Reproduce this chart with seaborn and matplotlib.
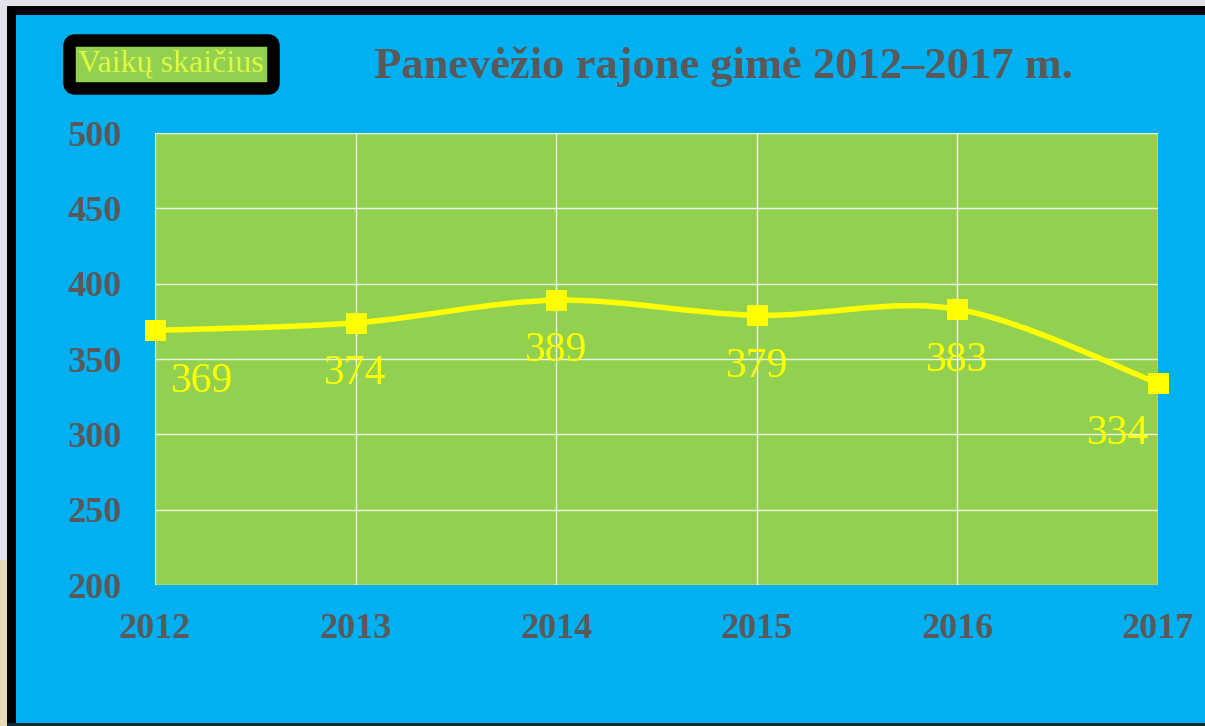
import matplotlib.pyplot as plt
import matplotlib.patches as mpatches
from matplotlib.path import Path
from matplotlib.lines import Line2D
import numpy as np
import pandas as pd
import seaborn as sns

# data
years = ["2012", "2013", "2014", "2015", "2016", "2017"]
births = [369, 374, 389, 379, 383, 334]
y_ticks = [200, 250, 300, 350, 400, 450, 500]

title = "Panevėžio rajone gimė 2012–2017 m."
series_name = "Vaikų skaičius"

blue = "#00B0F0"
green = "#92D050"
yellow = "#FFFF00"
gray = "#595959"

sns.set_theme(style="white")
plt.rcParams["font.family"] = ["Liberation Serif", "DejaVu Serif"]

df = pd.DataFrame({"year": years, "births": births})

fig = plt.figure(figsize=(12.05, 7.26), dpi=100, facecolor=blue)
ax = fig.add_axes([155 / 1205, 1 - 585 / 726, 1003 / 1205, 452 / 726])
ax.set_facecolor(green)


def frame_rect(x0, y0, w, h, color, z):
    # pixel coords, origin top-left
    r = mpatches.Rectangle((x0 / 1205, 1 - (y0 + h) / 726), w / 1205, h / 726,
                           transform=fig.transFigure, facecolor=color,
                           edgecolor="none", linewidth=0, zorder=z)
    fig.patches.append(r)


# frame around the picture
frame_rect(0, 0, 7, 726, "#e2e2ea", -4)
frame_rect(0, 560, 7, 166, "#e8d9b8", -4)
frame_rect(0, 0, 1205, 6, "#e2e2ea", -4)
frame_rect(7, 6, 9, 720, "black", -3)
frame_rect(7, 6, 1198, 9, "black", -3)
frame_rect(7, 723, 1198, 3, "#0a2a3a", -3)

# smoothed line (bezier through the data points, like the spreadsheet "smooth line")
xs = np.arange(len(births), dtype=float)
ys = np.array(births, dtype=float)
verts = [(xs[0], ys[0])]
codes = [Path.MOVETO]
n = len(xs)
for i in range(n - 1):
    p0 = (xs[max(i - 1, 0)], ys[max(i - 1, 0)])
    p1 = (xs[i], ys[i])
    p2 = (xs[i + 1], ys[i + 1])
    p3 = (xs[min(i + 2, n - 1)], ys[min(i + 2, n - 1)])
    c1 = (p1[0] + (p2[0] - p0[0]) / 6, p1[1] + (p2[1] - p0[1]) / 6)
    c2 = (p2[0] - (p3[0] - p1[0]) / 6, p2[1] - (p3[1] - p1[1]) / 6)
    verts += [c1, c2, p2]
    codes += [Path.CURVE4] * 3
curve = mpatches.PathPatch(Path(verts, codes), facecolor="none", edgecolor=yellow,
                           linewidth=4, zorder=3, capstyle="round", joinstyle="round")
ax.add_patch(curve)

sns.lineplot(data=df, x="year", y="births", ax=ax, marker="s", markersize=14,
             color=yellow, linestyle="none", markeredgecolor=yellow, zorder=4,
             clip_on=False)

for i, v in enumerate(births):
    if i == 0:
        ha, dx = "left", 16
    elif i == n - 1:
        ha, dx = "right", -9
    else:
        ha, dx = "center", 0
    ax.annotate(str(v), (i, v), xytext=(dx, -51), textcoords="offset pixels",
                ha=ha, va="center", fontsize=30, color=yellow, zorder=5)

ax.set_xlim(0, n - 1)
ax.set_ylim(200, 500)
ax.set_yticks(y_ticks)
ax.set_xticks(range(n))
ax.set_xticklabels(years)
ax.grid(True, color="white", linewidth=1.0, alpha=0.85)
ax.set_axisbelow(True)
for s in ax.spines.values():
    s.set_visible(False)
ax.tick_params(axis="both", length=0, labelsize=26, labelcolor=gray)
ax.tick_params(axis="y", pad=24)
ax.tick_params(axis="x", pad=20)
for lab in ax.get_xticklabels() + ax.get_yticklabels():
    lab.set_fontweight("bold")
ax.set_xlabel("")
ax.set_ylabel("")

fig.text(723 / 1205, 1 - 67 / 726, title, ha="center", va="center",
         fontsize=32, fontweight="bold", color=gray)

leg = ax.legend(handles=[Line2D([], [], linestyle="none")], labels=[series_name],
                loc="center", bbox_to_anchor=(171 / 1205, 1 - 64 / 726),
                bbox_transform=fig.transFigure, handlelength=0, handletextpad=0,
                prop={"family": ["Liberation Serif", "DejaVu Serif"], "size": 23},
                labelcolor="#E0F840", facecolor=green,
                edgecolor="black", framealpha=1, fancybox=True,
                borderpad=0.3, borderaxespad=0)
leg.get_frame().set_linewidth(9)

fig.savefig("out.png", dpi=100, facecolor=blue)
